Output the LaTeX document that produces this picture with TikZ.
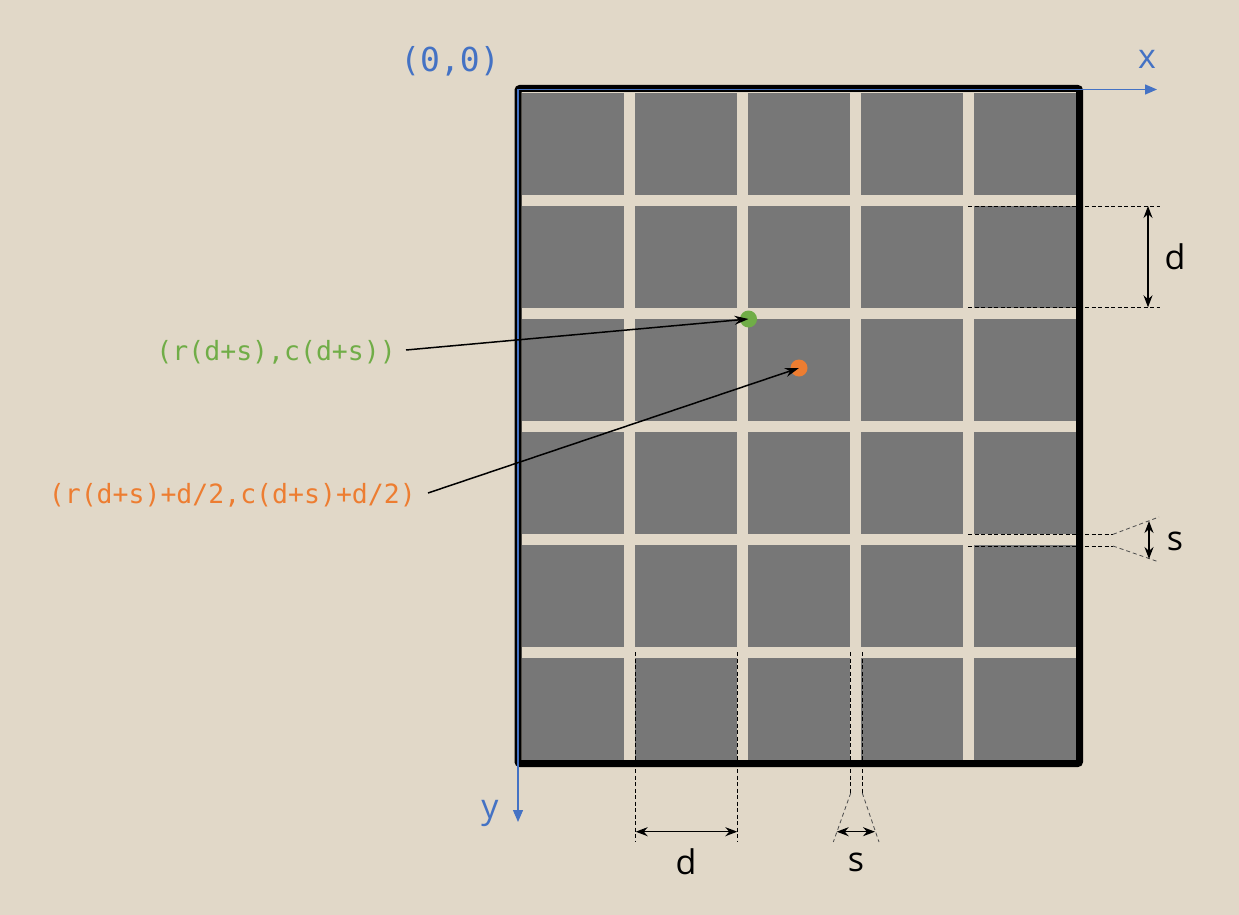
\documentclass[tikz,border=0pt]{standalone}
\usepackage{fontspec}
\setmainfont{Open Sans}
\newfontfamily\monof{DejaVu Sans Mono}
\usetikzlibrary{arrows.meta}
\definecolor{bg}{HTML}{E1D8C8}
\definecolor{cellgray}{HTML}{777777}
\definecolor{axblue}{HTML}{4472C4}
\definecolor{ptgreen}{HTML}{70AD47}
\definecolor{ptorange}{HTML}{ED7D31}
\tikzset{
  cell/.style={fill=cellgray},
  frame/.style={draw=black,line width=7pt,rounded corners=2pt},
  axis/.style={draw=axblue,line width=1.3pt,-{Triangle[length=12pt,width=10pt]}},
  axlabel/.style={text=axblue,inner sep=0pt,font=\fontsize{34}{38}\selectfont},
  monolabel/.style={inner sep=0pt,font=\monof\fontsize{26.5}{30}\selectfont},
  originlabel/.style={inner sep=0pt,text=axblue,font=\monof\fontsize{33}{36}\selectfont},
  dot/.style={circle,inner sep=0pt,minimum size=17pt},
  ptr/.style={draw=black,line width=1.5pt,-{Stealth[length=14pt,width=9pt]}},
  dimline/.style={draw=black,line width=1pt,dash pattern=on 4pt off 2.5pt},
  dimthin/.style={draw=black!70,line width=0.8pt,dash pattern=on 4pt off 3pt},
  dimarr/.style={draw=black,line width=1.3pt,{Stealth[length=12pt,width=9pt]}-{Stealth[length=12pt,width=9pt]}},
  dimlabel/.style={inner sep=0pt,font=\fontsize{34}{38}\selectfont}
}
\begin{document}
\begin{tikzpicture}[x=1pt,y=-1pt]
\fill[bg] (0,0) rectangle (1239,915);
\useasboundingbox (0,0) rectangle (1239,915);
% cells
\foreach \r in {0,...,5}{
  \foreach \c in {0,...,4}{
    \fill[cell] ({522+113*\c},{93+113*\r}) rectangle ++(101.5,101.5);
  }
}
% frame
\draw[frame] (518,88.5) rectangle (1079.5,763.5);
% axes
\coordinate (O) at (518,89.5);
\coordinate (xend) at (1157,89.5);
\coordinate (yend) at (518,822);
\draw[axis] (O) -- (xend);
\draw[axis] (O) -- (yend);
\node[axlabel] (xl) at (1147,59) {x};
\node[axlabel] (yl) at (490,813) {y};
\node[originlabel] (orig) at (450,61) {(0,0)};
% points
\node[dot,fill=ptgreen] (gd) at (748.5,319) {};
\node[dot,fill=ptorange] (od) at (799,368) {};
\node[monolabel,text=ptgreen,anchor=east] (gl) at (396,352) {(r(d+s),c(d+s))};
\node[monolabel,text=ptorange,anchor=east] (ol) at (416,495) {(r(d+s)+d/2,c(d+s)+d/2)};
\draw[ptr] ([xshift=10pt,yshift=2pt]gl.east) -- (gd.center);
\draw[ptr] ([xshift=12pt,yshift=2pt]ol.east) -- (od.center);
% right d
\coordinate (rd1a) at (968,206); \coordinate (rd1b) at (1160,206);
\coordinate (rd2a) at (968,307.3); \coordinate (rd2b) at (1160,307.3);
\draw[dimline] (rd1a) -- (rd1b);
\draw[dimline] (rd2a) -- (rd2b);
\coordinate (rdt) at (1148,206); \coordinate (rdb) at (1148,307.3);
\draw[dimarr] (rdt) -- (rdb);
\node[dimlabel] (rdl) at (1175,257) {d};
% right s
\coordinate (rs1a) at (968,534.3); \coordinate (rs1b) at (1113,534.3); \coordinate (rs1c) at (1159,517);
\coordinate (rs2a) at (968,546); \coordinate (rs2b) at (1113,546); \coordinate (rs2c) at (1159,562);
\draw[dimline] (rs1a) -- (rs1b);
\draw[dimline] (rs2a) -- (rs2b);
\draw[dimthin] (rs1b) -- (rs1c);
\draw[dimthin] (rs2b) -- (rs2c);
\coordinate (rst) at (1149,521); \coordinate (rsb) at (1149,559);
\draw[dimarr] (rst) -- (rsb);
\node[dimlabel] (rsl) at (1175,541) {s};
% bottom d
\coordinate (bd1a) at (635.7,652); \coordinate (bd1b) at (635.7,842);
\coordinate (bd2a) at (737.3,652); \coordinate (bd2b) at (737.3,842);
\draw[dimline] (bd1a) -- (bd1b);
\draw[dimline] (bd2a) -- (bd2b);
\coordinate (bdl) at (635.7,831.7); \coordinate (bdr) at (737.3,831.7);
\draw[dimarr] (bdl) -- (bdr);
\node[dimlabel] (bdlab) at (686,862) {d};
% bottom s
\coordinate (bs1a) at (850.7,652); \coordinate (bs1b) at (850.7,793); \coordinate (bs1c) at (833.3,842);
\coordinate (bs2a) at (862.3,652); \coordinate (bs2b) at (862.3,793); \coordinate (bs2c) at (879,842);
\draw[dimline] (bs1a) -- (bs1b);
\draw[dimline] (bs2a) -- (bs2b);
\draw[dimthin] (bs1b) -- (bs1c);
\draw[dimthin] (bs2b) -- (bs2c);
\coordinate (bsl) at (836.7,831.7); \coordinate (bsr) at (875,831.7);
\draw[dimarr] (bsl) -- (bsr);
\node[dimlabel] (bslab) at (856,862) {s};
\end{tikzpicture}
\end{document}
